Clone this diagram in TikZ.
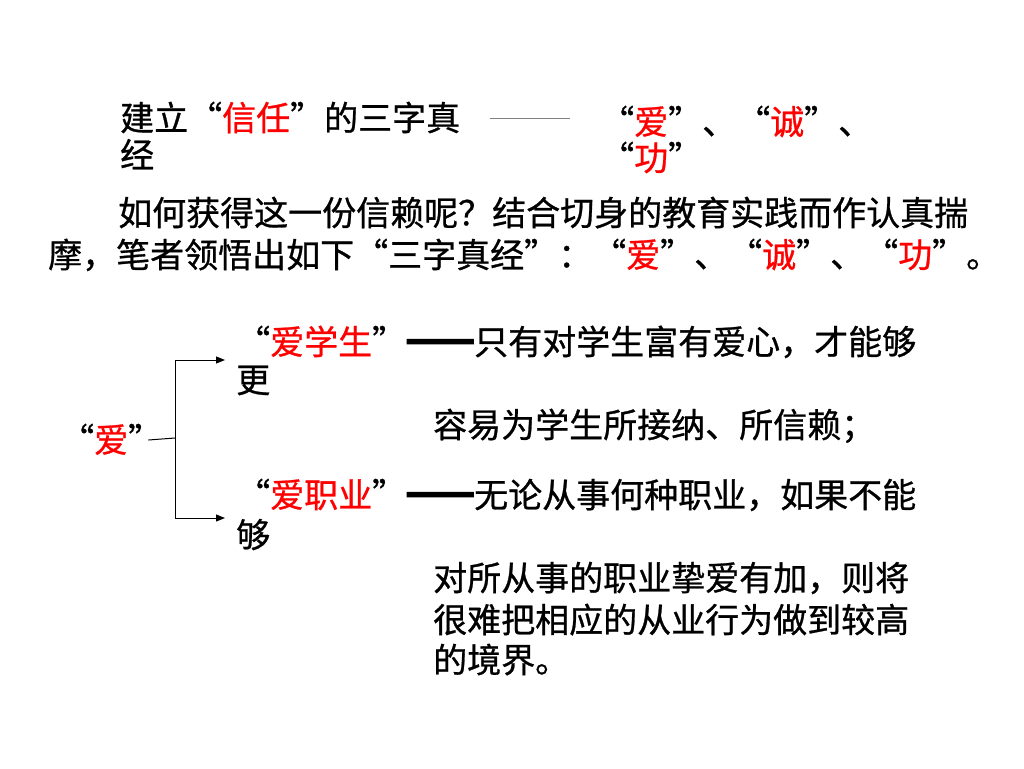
\documentclass[tikz,border=0pt]{standalone}
\usepackage{fontspec}
\newfontfamily\cjk[FakeBold=0.8]{Noto Sans CJK SC}
\newfontfamily\dashf[RawFeature=+fwid,FakeBold=12]{Noto Sans CJK SC}
\usetikzlibrary{arrows.meta}
\begin{document}
\begin{tikzpicture}[x=1pt,y=-1pt,line/.style={anchor=west,inner sep=0pt,text height=30pt,text depth=5pt,font=\cjk\fontsize{34}{40}\selectfont},link/.style={draw=black,line width=1pt},arr/.style={link,-{Triangle[length=9pt,width=7pt]}}]
\useasboundingbox (0,0) rectangle (1024,768);

% title
\node[line] (T1) at (120,118) {建立“\textcolor{red}{信任}”的三字真};
\node[line] (T2) at (120,155) {经};
\coordinate (La) at (490,118);
\coordinate (Lb) at (570,118);
\draw[gray,line width=0.8pt] (La) -- (Lb);
\node[line] (K1) at (600,122) {“\textcolor{red}{爱}”、“\textcolor{red}{诚}”、};
\node[line] (K2) at (600,158) {“\textcolor{red}{功}”};

% paragraph
\node[line] (P1) at (118,213) {如何获得这一份信赖呢？结合切身的教育实践而作认真揣};
\node[line] (P2) at (48,255) {摩，笔者领悟出如下“三字真经”：“\textcolor{red}{爱}”、“\textcolor{red}{诚}”、“\textcolor{red}{功}”。};

% branches
\node[line] (A) at (60,440) {“\textcolor{red}{爱}”};
\node[line] (S1) at (236,342) {“\textcolor{red}{爱学生}”{\dashf ——}只有对学生富有爱心，才能够};
\node[line] (S2) at (236,380) {更};
\node[line] (S3) at (433,425) {容易为学生所接纳、所信赖；};
\node[line] (J1) at (236,495) {“\textcolor{red}{爱职业}”{\dashf ——}无论从事何种职业，如果不能};
\node[line] (J2) at (236,535) {够};
\node[line] (J3) at (433,578) {对所从事的职业挚爱有加，则将};
\node[line] (J4) at (433,620) {很难把相应的从业行为做到较高};
\node[line] (J5) at (433,660) {的境界。};

\coordinate (F) at (175,438);
\coordinate (Fa) at (225,360);
\coordinate (Fb) at (225,518);
\draw[link] ([xshift=-14pt]A.east) -- (F);
\draw[arr] (F) |- (Fa);
\draw[arr] (F) |- (Fb);
\end{tikzpicture}
\end{document}
